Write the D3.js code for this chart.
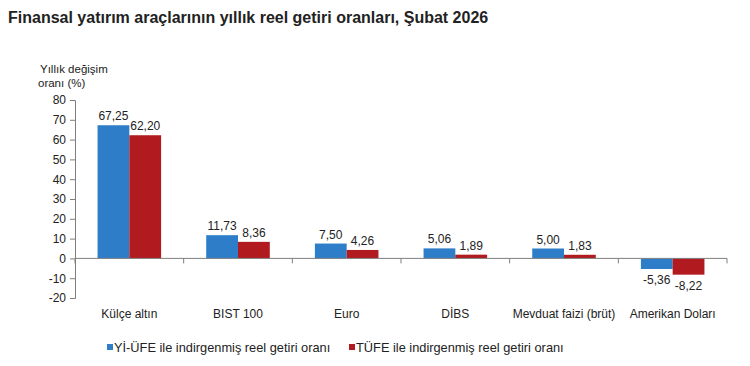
<!DOCTYPE html>
<html><head><meta charset="utf-8">
<script src="https://cdn.jsdelivr.net/npm/d3@7"></script>
<style>body{margin:0;background:#fff;}svg{display:block;font-family:"Liberation Sans",Arial,sans-serif;}</style>
</head><body>
<svg id="c" width="750" height="366"></svg>
<script>
const categories = ["Külçe altın","BIST 100","Euro","DİBS","Mevduat faizi (brüt)","Amerikan Doları"];
const seriesNames = ["Yİ-ÜFE ile indirgenmiş reel getiri oranı","TÜFE ile indirgenmiş reel getiri oranı"];
const yiufe = [67.25, 11.73, 7.50, 5.06, 5.00, -5.36];
const tufe = [62.20, 8.36, 4.26, 1.89, 1.83, -8.22];
const yTicks = [80,70,60,50,40,30,20,10,0,-10,-20];
const colors = ["#2e7dc8","#b11a1e"];

(function(){
const svg = d3.select("#c");
const fmt = v => v.toFixed(2).replace(".", ",");

svg.append("text").attr("x",8).attr("y",23).attr("font-size",16).attr("font-weight","bold").attr("fill","#222")
  .text("Finansal yatırım araçlarının yıllık reel getiri oranları, Şubat 2026");

svg.append("text").attr("x",40).attr("y",73).attr("font-size",11.5).attr("fill","#222").text("Yıllık değişim");
svg.append("text").attr("x",38).attr("y",87).attr("font-size",11.5).attr("fill","#222").text("oranı (%)");

const pl = 75, pr = 727, pt = 100, pb = 298;
const x = d3.scaleBand().domain(categories).range([pl,pr]);
const x1 = d3.scaleBand().domain([0,1]).range([0, x.bandwidth()]).paddingInner(0).paddingOuter(0.71);
const y = d3.scaleLinear().domain([-20,80]).range([pb, pt]);

const ya = svg.append("g").attr("transform",`translate(${pl},0)`)
  .call(d3.axisLeft(y).tickValues(yTicks).tickSize(5).tickPadding(4).tickFormat(d=>d));
ya.select(".domain").attr("stroke","#7f7f7f");
ya.selectAll(".tick line").attr("stroke","#7f7f7f");
ya.selectAll(".tick text").attr("font-size",12).attr("fill","#222").attr("font-family","Liberation Sans, Arial, sans-serif");

const data = categories.map((c,i)=>({c, v:[yiufe[i], tufe[i]]}));
const g = svg.append("g");
data.forEach(d=>{
  d.v.forEach((v,s)=>{
    const bx = x(d.c)+x1(s);
    g.append("rect").attr("x",bx).attr("width",x1.bandwidth())
      .attr("y",y(Math.max(0,v))).attr("height",Math.abs(y(v)-y(0)))
      .attr("fill",colors[s]);
    g.append("text").attr("x",bx+x1.bandwidth()/2)
      .attr("y", v>=0 ? y(v)-5 : y(v)+15)
      .attr("text-anchor","middle").attr("font-size",12).attr("fill","#222").text(fmt(v));
  });
});

const xa = svg.append("g").attr("transform",`translate(0,${y(0)})`);
xa.append("line").attr("x1",pl).attr("x2",pr).attr("stroke","#7f7f7f");
d3.range(categories.length+1).forEach(i=>{
  const xx = pl + i*x.step();
  xa.append("line").attr("x1",xx).attr("x2",xx).attr("y1",0).attr("y2",5).attr("stroke","#7f7f7f");
});
categories.forEach(c=>{
  svg.append("text").attr("x",x(c)+x.bandwidth()/2).attr("y",318).attr("text-anchor","middle")
    .attr("font-size",12).attr("fill","#222").text(c);
});

const leg = [{x:107, s:0},{x:349, s:1}];
leg.forEach(l=>{
  svg.append("rect").attr("x",l.x).attr("y",344).attr("width",6).attr("height",6).attr("fill",colors[l.s]);
  svg.append("text").attr("x",l.x+7).attr("y",352).attr("font-size",12.8).attr("fill","#222").text(seriesNames[l.s]);
});
})();
</script>
</body></html>
